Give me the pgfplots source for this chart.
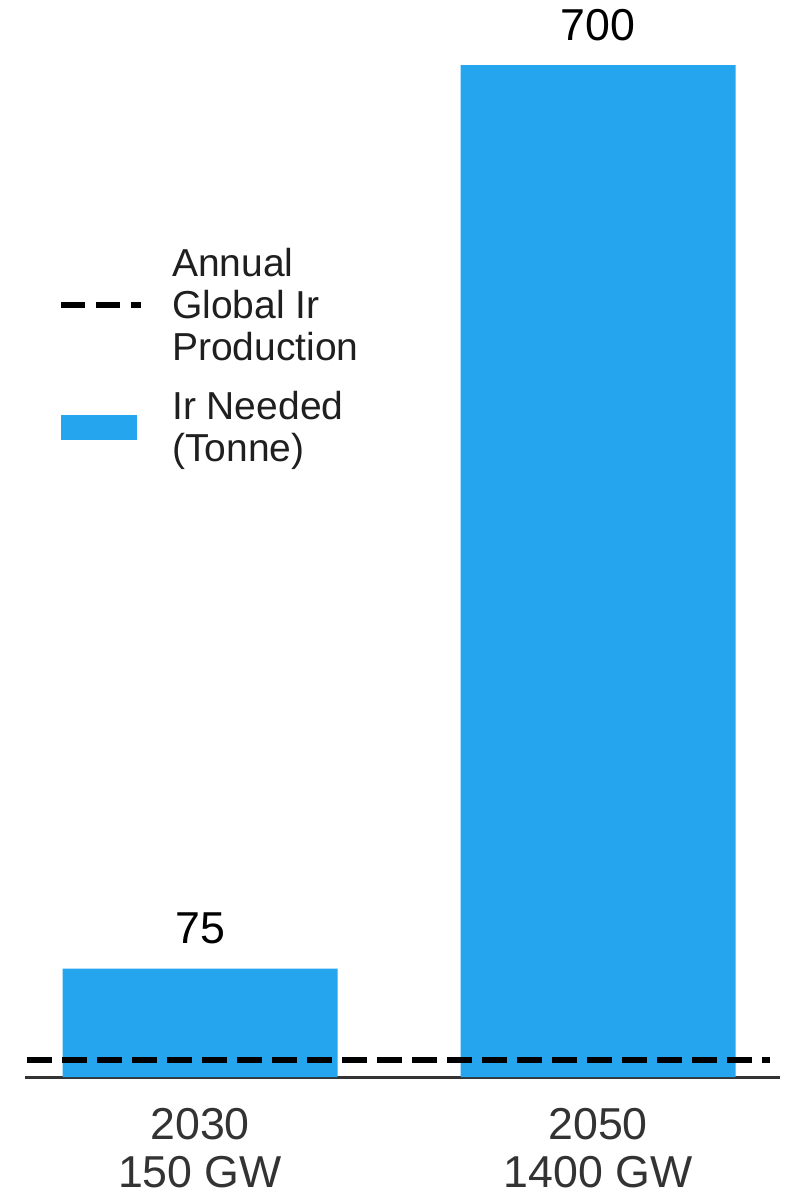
\documentclass[border=0pt]{standalone}
\usepackage{pgfplots}
\pgfplotsset{compat=1.18}
\usepackage{fontspec}
\setmainfont{Liberation Sans}
\definecolor{barblue}{HTML}{25A5EE}
\definecolor{axgray}{HTML}{333333}
\begin{document}
\begin{tikzpicture}
\begin{axis}[
 scale only axis,
 width=755pt, height=1077pt,
 xmin=-0.4397, xmax=1.457,
 ymin=0, ymax=745,
 axis x line=bottom, axis y line=none,
 axis line style={axgray, line width=3pt, -},
 xtick={0,1}, xticklabels={{2030\\150 GW},{2050\\1400 GW}},
 xticklabel style={align=center, font=\fontsize{44.7}{48}\selectfont, text=axgray, inner sep=0pt, anchor=north, yshift=-31pt},
 major tick length=0pt,
 ytick=\empty,
 clip=false,
 reverse legend,
 legend cell align=left,
 legend style={draw=none, fill=none, at={(axis description cs:0.0437,0.777)}, anchor=north west,
   inner sep=0pt, cells={anchor=west, align=left}, font=\fontsize{39}{42}\selectfont,
   nodes={inner xsep=0pt, inner ysep=8pt}, row sep=13pt, text=black!88,
   /tikz/every odd column/.append style={column sep=28pt}},
]
\addplot[ybar, bar width=275pt, fill=barblue, draw=none,
  nodes near coords,
  nodes near coords style={font=\fontsize{44.7}{48}\selectfont, text=black, inner sep=0pt, anchor=south, yshift=24pt},
  /pgf/number format/assume math mode=true,
  legend image code/.code={\fill[barblue] (0pt,-12.5pt) rectangle (76pt,12.5pt);}]
  coordinates {(0,75) (1,700)};
\addlegendentry{Ir Needed\\(Tonne)}
\addplot[black, line width=6pt, dash pattern=on 25pt off 10pt,
  legend image code/.code={\draw[black, line width=6pt, dash pattern=on 24pt off 11pt] (0pt,0pt) -- (80pt,0pt);}]
  coordinates {(-0.435,12) (1.432,12)};
\addlegendentry{Annual\\Global Ir\\Production}
\end{axis}
\pgfresetboundingbox
\path[use as bounding box] (-25pt,-119pt) rectangle (763pt,1077pt);
\end{tikzpicture}
\end{document}
